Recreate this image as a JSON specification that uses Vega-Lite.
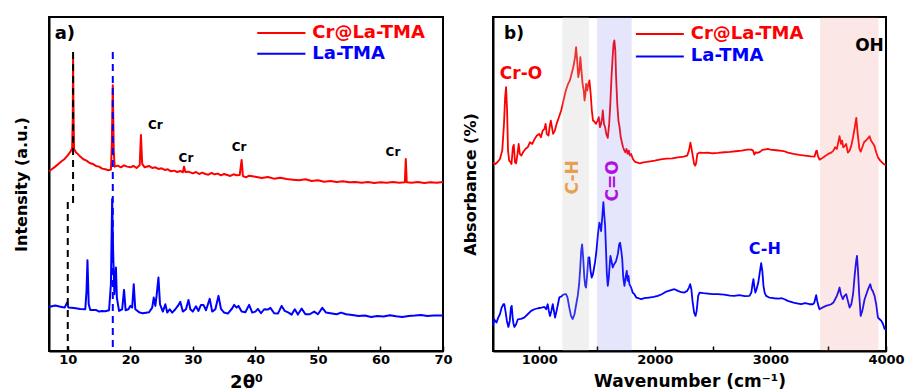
{
  "$schema": "https://vega.github.io/schema/vega-lite/v6.json",
  "background": "white",
  "padding": {"left": 12, "top": 16, "right": 4, "bottom": 0},
  "autosize": {"type": "pad"},
  "spacing": 7,
  "config": {
    "font": "DejaVu Sans",
    "view": {"stroke": "black", "strokeWidth": 2},
    "axis": {"grid": false, "domainColor": "black", "domainWidth": 2, "tickColor": "black", "labelColor": "black", "titleColor": "black", "labelFont": "DejaVu Sans", "titleFont": "DejaVu Sans", "labelFontWeight": "bold", "titleFontWeight": "bold", "labelFontSize": 13, "titleFontSize": 16, "labelFlush": false, "labelOverlap": false},
    "text": {"font": "DejaVu Sans", "fontWeight": "bold"}
  },
  "datasets": {
    "xrd": [
      {"s":"Cr@La-TMA","t":7.0,"i":53.8},{"s":"Cr@La-TMA","t":7.5,"i":54.5},{"s":"Cr@La-TMA","t":8.0,"i":55.2},{"s":"Cr@La-TMA","t":8.5,"i":56.0},{"s":"Cr@La-TMA","t":9.0,"i":56.8},{"s":"Cr@La-TMA","t":9.5,"i":57.5},{"s":"Cr@La-TMA","t":10.0,"i":58.6},{"s":"Cr@La-TMA","t":10.4,"i":59.6},{"s":"Cr@La-TMA","t":10.7,"i":60.6},{"s":"Cr@La-TMA","t":10.8,"i":70},{"s":"Cr@La-TMA","t":10.85,"i":88},{"s":"Cr@La-TMA","t":10.9,"i":75},{"s":"Cr@La-TMA","t":11.0,"i":60.5},{"s":"Cr@La-TMA","t":11.3,"i":59.5},{"s":"Cr@La-TMA","t":11.7,"i":58.8},{"s":"Cr@La-TMA","t":12.0,"i":58.2},{"s":"Cr@La-TMA","t":12.5,"i":57.4},{"s":"Cr@La-TMA","t":13.0,"i":57.0},{"s":"Cr@La-TMA","t":13.5,"i":56.3},{"s":"Cr@La-TMA","t":14.0,"i":56.0},{"s":"Cr@La-TMA","t":14.5,"i":55.4},{"s":"Cr@La-TMA","t":15.0,"i":55.2},{"s":"Cr@La-TMA","t":15.5,"i":54.6},{"s":"Cr@La-TMA","t":16.0,"i":54.4},{"s":"Cr@La-TMA","t":16.5,"i":54.1},{"s":"Cr@La-TMA","t":16.9,"i":54.3},{"s":"Cr@La-TMA","t":17.05,"i":62},{"s":"Cr@La-TMA","t":17.2,"i":79.6},{"s":"Cr@La-TMA","t":17.35,"i":60},{"s":"Cr@La-TMA","t":17.5,"i":55.2},{"s":"Cr@La-TMA","t":18.0,"i":55.5},{"s":"Cr@La-TMA","t":18.5,"i":55.0},{"s":"Cr@La-TMA","t":19.0,"i":55.6},{"s":"Cr@La-TMA","t":19.5,"i":55.2},{"s":"Cr@La-TMA","t":20.0,"i":55.0},{"s":"Cr@La-TMA","t":20.5,"i":55.4},{"s":"Cr@La-TMA","t":21.0,"i":54.8},{"s":"Cr@La-TMA","t":21.5,"i":55.6},{"s":"Cr@La-TMA","t":21.7,"i":64.7},{"s":"Cr@La-TMA","t":21.9,"i":56.0},{"s":"Cr@La-TMA","t":22.3,"i":55.0},{"s":"Cr@La-TMA","t":23.0,"i":55.4},{"s":"Cr@La-TMA","t":23.5,"i":54.8},{"s":"Cr@La-TMA","t":24.0,"i":55.0},{"s":"Cr@La-TMA","t":24.5,"i":54.5},{"s":"Cr@La-TMA","t":25.0,"i":54.7},{"s":"Cr@La-TMA","t":25.5,"i":54.2},{"s":"Cr@La-TMA","t":26.0,"i":54.4},{"s":"Cr@La-TMA","t":26.5,"i":53.8},{"s":"Cr@La-TMA","t":27.0,"i":54.0},{"s":"Cr@La-TMA","t":27.5,"i":53.6},{"s":"Cr@La-TMA","t":28.0,"i":53.9},{"s":"Cr@La-TMA","t":28.4,"i":53.5},{"s":"Cr@La-TMA","t":28.6,"i":55.2},{"s":"Cr@La-TMA","t":28.8,"i":53.6},{"s":"Cr@La-TMA","t":29.3,"i":53.7},{"s":"Cr@La-TMA","t":30.0,"i":53.2},{"s":"Cr@La-TMA","t":30.5,"i":53.6},{"s":"Cr@La-TMA","t":31.0,"i":53.0},{"s":"Cr@La-TMA","t":31.5,"i":53.4},{"s":"Cr@La-TMA","t":32.0,"i":53.0},{"s":"Cr@La-TMA","t":32.5,"i":52.8},{"s":"Cr@La-TMA","t":33.0,"i":53.3},{"s":"Cr@La-TMA","t":33.5,"i":52.9},{"s":"Cr@La-TMA","t":34.0,"i":53.1},{"s":"Cr@La-TMA","t":34.5,"i":52.6},{"s":"Cr@La-TMA","t":35.0,"i":53.0},{"s":"Cr@La-TMA","t":35.5,"i":52.7},{"s":"Cr@La-TMA","t":36.0,"i":52.4},{"s":"Cr@La-TMA","t":36.5,"i":52.9},{"s":"Cr@La-TMA","t":37.0,"i":52.6},{"s":"Cr@La-TMA","t":37.5,"i":52.7},{"s":"Cr@La-TMA","t":37.8,"i":57.2},{"s":"Cr@La-TMA","t":38.0,"i":52.4},{"s":"Cr@La-TMA","t":38.5,"i":52.0},{"s":"Cr@La-TMA","t":39.0,"i":52.5},{"s":"Cr@La-TMA","t":40.0,"i":52.2},{"s":"Cr@La-TMA","t":41.0,"i":51.8},{"s":"Cr@La-TMA","t":42.0,"i":52.1},{"s":"Cr@La-TMA","t":43.0,"i":51.6},{"s":"Cr@La-TMA","t":44.0,"i":51.9},{"s":"Cr@La-TMA","t":45.0,"i":51.5},{"s":"Cr@La-TMA","t":46.0,"i":51.3},{"s":"Cr@La-TMA","t":47.0,"i":51.1},{"s":"Cr@La-TMA","t":48.0,"i":51.4},{"s":"Cr@La-TMA","t":49.0,"i":50.9},{"s":"Cr@La-TMA","t":50.0,"i":51.1},{"s":"Cr@La-TMA","t":51.0,"i":50.7},{"s":"Cr@La-TMA","t":52.0,"i":50.9},{"s":"Cr@La-TMA","t":53.0,"i":50.6},{"s":"Cr@La-TMA","t":54.0,"i":50.8},{"s":"Cr@La-TMA","t":55.0,"i":50.5},{"s":"Cr@La-TMA","t":56.0,"i":50.6},{"s":"Cr@La-TMA","t":57.0,"i":50.4},{"s":"Cr@La-TMA","t":58.0,"i":50.6},{"s":"Cr@La-TMA","t":59.0,"i":50.3},{"s":"Cr@La-TMA","t":60.0,"i":50.5},{"s":"Cr@La-TMA","t":61.0,"i":50.4},{"s":"Cr@La-TMA","t":62.0,"i":50.6},{"s":"Cr@La-TMA","t":63.0,"i":50.4},{"s":"Cr@La-TMA","t":63.9,"i":50.5},{"s":"Cr@La-TMA","t":64.05,"i":57.5},{"s":"Cr@La-TMA","t":64.2,"i":50.5},{"s":"Cr@La-TMA","t":65.0,"i":50.4},{"s":"Cr@La-TMA","t":66.0,"i":50.6},{"s":"Cr@La-TMA","t":67.0,"i":50.3},{"s":"Cr@La-TMA","t":68.0,"i":50.5},{"s":"Cr@La-TMA","t":69.0,"i":50.4},{"s":"Cr@La-TMA","t":70.0,"i":50.6},
      {"s":"La-TMA","t":7.0,"i":13.2},{"s":"La-TMA","t":8.0,"i":13.6},{"s":"La-TMA","t":9.0,"i":13.2},{"s":"La-TMA","t":9.5,"i":13.0},{"s":"La-TMA","t":9.9,"i":14.5},{"s":"La-TMA","t":10.1,"i":13.0},{"s":"La-TMA","t":11.0,"i":12.9},{"s":"La-TMA","t":12.0,"i":12.6},{"s":"La-TMA","t":12.8,"i":12.5},{"s":"La-TMA","t":13.0,"i":18},{"s":"La-TMA","t":13.15,"i":27.2},{"s":"La-TMA","t":13.35,"i":14},{"s":"La-TMA","t":13.6,"i":12.3},{"s":"La-TMA","t":14.5,"i":12.3},{"s":"La-TMA","t":15.0,"i":11.8},{"s":"La-TMA","t":15.5,"i":12.0},{"s":"La-TMA","t":16.0,"i":11.9},{"s":"La-TMA","t":16.6,"i":12.2},{"s":"La-TMA","t":16.9,"i":20},{"s":"La-TMA","t":17.1,"i":45.5},{"s":"La-TMA","t":17.25,"i":30},{"s":"La-TMA","t":17.45,"i":17},{"s":"La-TMA","t":17.7,"i":25},{"s":"La-TMA","t":17.85,"i":16},{"s":"La-TMA","t":18.2,"i":12.0},{"s":"La-TMA","t":18.7,"i":12.5},{"s":"La-TMA","t":19.0,"i":18.3},{"s":"La-TMA","t":19.25,"i":12.2},{"s":"La-TMA","t":19.7,"i":12.5},{"s":"La-TMA","t":20.0,"i":13.5},{"s":"La-TMA","t":20.3,"i":13},{"s":"La-TMA","t":20.55,"i":20},{"s":"La-TMA","t":20.8,"i":12.5},{"s":"La-TMA","t":21.5,"i":11.5},{"s":"La-TMA","t":22.0,"i":11.3},{"s":"La-TMA","t":23.0,"i":11.6},{"s":"La-TMA","t":23.5,"i":13},{"s":"La-TMA","t":23.75,"i":16},{"s":"La-TMA","t":24.0,"i":13.5},{"s":"La-TMA","t":24.2,"i":16.5},{"s":"La-TMA","t":24.5,"i":22},{"s":"La-TMA","t":24.75,"i":14},{"s":"La-TMA","t":25.2,"i":11.8},{"s":"La-TMA","t":25.6,"i":14},{"s":"La-TMA","t":25.9,"i":11.5},{"s":"La-TMA","t":26.3,"i":12.5},{"s":"La-TMA","t":26.7,"i":11.5},{"s":"La-TMA","t":27.2,"i":12.5},{"s":"La-TMA","t":27.6,"i":13.5},{"s":"La-TMA","t":28.0,"i":14.7},{"s":"La-TMA","t":28.4,"i":11.8},{"s":"La-TMA","t":28.9,"i":12.5},{"s":"La-TMA","t":29.3,"i":15.3},{"s":"La-TMA","t":29.6,"i":12.5},{"s":"La-TMA","t":30.0,"i":11.8},{"s":"La-TMA","t":30.5,"i":13.4},{"s":"La-TMA","t":30.9,"i":12},{"s":"La-TMA","t":31.3,"i":13.8},{"s":"La-TMA","t":31.7,"i":13.8},{"s":"La-TMA","t":32.1,"i":12.2},{"s":"La-TMA","t":32.7,"i":15.6},{"s":"La-TMA","t":33.1,"i":11.8},{"s":"La-TMA","t":33.6,"i":12.5},{"s":"La-TMA","t":34.1,"i":16.5},{"s":"La-TMA","t":34.5,"i":12.6},{"s":"La-TMA","t":35.0,"i":11.5},{"s":"La-TMA","t":35.6,"i":11.2},{"s":"La-TMA","t":36.3,"i":12.8},{"s":"La-TMA","t":36.6,"i":13.8},{"s":"La-TMA","t":37.0,"i":13},{"s":"La-TMA","t":37.3,"i":13.5},{"s":"La-TMA","t":37.8,"i":11.8},{"s":"La-TMA","t":38.4,"i":11.6},{"s":"La-TMA","t":39.0,"i":13.8},{"s":"La-TMA","t":39.5,"i":11.5},{"s":"La-TMA","t":40.0,"i":11.8},{"s":"La-TMA","t":40.4,"i":12.6},{"s":"La-TMA","t":40.9,"i":11.3},{"s":"La-TMA","t":41.4,"i":12.5},{"s":"La-TMA","t":42.0,"i":12.4},{"s":"La-TMA","t":42.4,"i":12.9},{"s":"La-TMA","t":43.0,"i":11.3},{"s":"La-TMA","t":43.6,"i":11.2},{"s":"La-TMA","t":44.2,"i":13.5},{"s":"La-TMA","t":44.7,"i":12.0},{"s":"La-TMA","t":45.3,"i":11.5},{"s":"La-TMA","t":45.8,"i":10.9},{"s":"La-TMA","t":46.3,"i":12.5},{"s":"La-TMA","t":46.8,"i":10.9},{"s":"La-TMA","t":47.4,"i":12.7},{"s":"La-TMA","t":48.0,"i":11},{"s":"La-TMA","t":48.7,"i":11},{"s":"La-TMA","t":49.4,"i":11.8},{"s":"La-TMA","t":50.0,"i":11.0},{"s":"La-TMA","t":50.7,"i":12.9},{"s":"La-TMA","t":51.3,"i":11.5},{"s":"La-TMA","t":52.0,"i":11.3},{"s":"La-TMA","t":53.0,"i":11.0},{"s":"La-TMA","t":53.7,"i":11.5},{"s":"La-TMA","t":54.5,"i":11.0},{"s":"La-TMA","t":55.5,"i":10.8},{"s":"La-TMA","t":56.5,"i":10.5},{"s":"La-TMA","t":57.5,"i":10.6},{"s":"La-TMA","t":58.5,"i":10.2},{"s":"La-TMA","t":59.5,"i":10.5},{"s":"La-TMA","t":60.5,"i":10.3},{"s":"La-TMA","t":61.5,"i":10.7},{"s":"La-TMA","t":62.5,"i":10.4},{"s":"La-TMA","t":63.5,"i":10.2},{"s":"La-TMA","t":64.5,"i":10.5},{"s":"La-TMA","t":65.5,"i":10.6},{"s":"La-TMA","t":66.5,"i":10.8},{"s":"La-TMA","t":67.5,"i":10.5},{"s":"La-TMA","t":68.5,"i":10.6},{"s":"La-TMA","t":70.0,"i":10.6}
    ],
    "ftir": [
      {"s":"Cr@La-TMA","w":600,"a":56.4},{"s":"Cr@La-TMA","w":620,"a":56.0},{"s":"Cr@La-TMA","w":640,"a":56.6},{"s":"Cr@La-TMA","w":660,"a":57.5},{"s":"Cr@La-TMA","w":680,"a":60},{"s":"Cr@La-TMA","w":695,"a":68},{"s":"Cr@La-TMA","w":705,"a":76},{"s":"Cr@La-TMA","w":713,"a":79},{"s":"Cr@La-TMA","w":722,"a":72},{"s":"Cr@La-TMA","w":730,"a":60},{"s":"Cr@La-TMA","w":740,"a":57},{"s":"Cr@La-TMA","w":750,"a":56.6},{"s":"Cr@La-TMA","w":760,"a":56},{"s":"Cr@La-TMA","w":772,"a":61},{"s":"Cr@La-TMA","w":780,"a":61.7},{"s":"Cr@La-TMA","w":790,"a":56.5},{"s":"Cr@La-TMA","w":800,"a":56.2},{"s":"Cr@La-TMA","w":812,"a":59},{"s":"Cr@La-TMA","w":822,"a":62},{"s":"Cr@La-TMA","w":832,"a":59},{"s":"Cr@La-TMA","w":845,"a":58.5},{"s":"Cr@La-TMA","w":860,"a":59.5},{"s":"Cr@La-TMA","w":880,"a":60.5},{"s":"Cr@La-TMA","w":900,"a":61},{"s":"Cr@La-TMA","w":920,"a":62.5},{"s":"Cr@La-TMA","w":940,"a":62},{"s":"Cr@La-TMA","w":960,"a":63.5},{"s":"Cr@La-TMA","w":980,"a":64.5},{"s":"Cr@La-TMA","w":1000,"a":65},{"s":"Cr@La-TMA","w":1015,"a":64},{"s":"Cr@La-TMA","w":1030,"a":66},{"s":"Cr@La-TMA","w":1045,"a":66.5},{"s":"Cr@La-TMA","w":1055,"a":68},{"s":"Cr@La-TMA","w":1065,"a":65},{"s":"Cr@La-TMA","w":1080,"a":64.5},{"s":"Cr@La-TMA","w":1090,"a":67},{"s":"Cr@La-TMA","w":1100,"a":69},{"s":"Cr@La-TMA","w":1110,"a":67},{"s":"Cr@La-TMA","w":1120,"a":65},{"s":"Cr@La-TMA","w":1135,"a":66},{"s":"Cr@La-TMA","w":1150,"a":68},{"s":"Cr@La-TMA","w":1170,"a":70},{"s":"Cr@La-TMA","w":1190,"a":72},{"s":"Cr@La-TMA","w":1210,"a":75},{"s":"Cr@La-TMA","w":1230,"a":78},{"s":"Cr@La-TMA","w":1250,"a":80},{"s":"Cr@La-TMA","w":1265,"a":81},{"s":"Cr@La-TMA","w":1280,"a":83},{"s":"Cr@La-TMA","w":1295,"a":85},{"s":"Cr@La-TMA","w":1310,"a":88},{"s":"Cr@La-TMA","w":1319,"a":91},{"s":"Cr@La-TMA","w":1328,"a":87},{"s":"Cr@La-TMA","w":1338,"a":82},{"s":"Cr@La-TMA","w":1348,"a":84},{"s":"Cr@La-TMA","w":1356,"a":88},{"s":"Cr@La-TMA","w":1365,"a":84},{"s":"Cr@La-TMA","w":1375,"a":80},{"s":"Cr@La-TMA","w":1385,"a":78},{"s":"Cr@La-TMA","w":1392,"a":75},{"s":"Cr@La-TMA","w":1400,"a":77},{"s":"Cr@La-TMA","w":1406,"a":80},{"s":"Cr@La-TMA","w":1415,"a":78},{"s":"Cr@La-TMA","w":1425,"a":80},{"s":"Cr@La-TMA","w":1434,"a":81},{"s":"Cr@La-TMA","w":1445,"a":77},{"s":"Cr@La-TMA","w":1455,"a":72},{"s":"Cr@La-TMA","w":1465,"a":69},{"s":"Cr@La-TMA","w":1477,"a":68.7},{"s":"Cr@La-TMA","w":1490,"a":68},{"s":"Cr@La-TMA","w":1505,"a":69},{"s":"Cr@La-TMA","w":1515,"a":70},{"s":"Cr@La-TMA","w":1525,"a":67},{"s":"Cr@La-TMA","w":1535,"a":68},{"s":"Cr@La-TMA","w":1545,"a":70},{"s":"Cr@La-TMA","w":1550,"a":72},{"s":"Cr@La-TMA","w":1560,"a":68},{"s":"Cr@La-TMA","w":1570,"a":67},{"s":"Cr@La-TMA","w":1580,"a":65},{"s":"Cr@La-TMA","w":1593,"a":63.8},{"s":"Cr@La-TMA","w":1605,"a":68},{"s":"Cr@La-TMA","w":1615,"a":74},{"s":"Cr@La-TMA","w":1625,"a":82},{"s":"Cr@La-TMA","w":1635,"a":88},{"s":"Cr@La-TMA","w":1643,"a":92},{"s":"Cr@La-TMA","w":1650,"a":93},{"s":"Cr@La-TMA","w":1658,"a":90},{"s":"Cr@La-TMA","w":1665,"a":82},{"s":"Cr@La-TMA","w":1675,"a":74},{"s":"Cr@La-TMA","w":1685,"a":69},{"s":"Cr@La-TMA","w":1695,"a":67},{"s":"Cr@La-TMA","w":1705,"a":64},{"s":"Cr@La-TMA","w":1715,"a":62.5},{"s":"Cr@La-TMA","w":1725,"a":61},{"s":"Cr@La-TMA","w":1737,"a":60},{"s":"Cr@La-TMA","w":1745,"a":59.5},{"s":"Cr@La-TMA","w":1755,"a":60.5},{"s":"Cr@La-TMA","w":1765,"a":59},{"s":"Cr@La-TMA","w":1775,"a":60},{"s":"Cr@La-TMA","w":1785,"a":58.5},{"s":"Cr@La-TMA","w":1795,"a":59},{"s":"Cr@La-TMA","w":1810,"a":57.5},{"s":"Cr@La-TMA","w":1830,"a":56.6},{"s":"Cr@La-TMA","w":1850,"a":56.4},{"s":"Cr@La-TMA","w":1870,"a":56.2},{"s":"Cr@La-TMA","w":1900,"a":56.5},{"s":"Cr@La-TMA","w":1930,"a":56.6},{"s":"Cr@La-TMA","w":1960,"a":56.8},{"s":"Cr@La-TMA","w":2000,"a":57},{"s":"Cr@La-TMA","w":2050,"a":57.4},{"s":"Cr@La-TMA","w":2100,"a":57.6},{"s":"Cr@La-TMA","w":2150,"a":57.7},{"s":"Cr@La-TMA","w":2200,"a":58},{"s":"Cr@La-TMA","w":2250,"a":58.2},{"s":"Cr@La-TMA","w":2280,"a":58.5},{"s":"Cr@La-TMA","w":2295,"a":60},{"s":"Cr@La-TMA","w":2308,"a":62.4},{"s":"Cr@La-TMA","w":2318,"a":60.5},{"s":"Cr@La-TMA","w":2328,"a":58.5},{"s":"Cr@La-TMA","w":2340,"a":56},{"s":"Cr@La-TMA","w":2350,"a":55.5},{"s":"Cr@La-TMA","w":2358,"a":56.4},{"s":"Cr@La-TMA","w":2368,"a":59},{"s":"Cr@La-TMA","w":2387,"a":59.4},{"s":"Cr@La-TMA","w":2420,"a":59.3},{"s":"Cr@La-TMA","w":2460,"a":59.4},{"s":"Cr@La-TMA","w":2500,"a":59.2},{"s":"Cr@La-TMA","w":2545,"a":59.3},{"s":"Cr@La-TMA","w":2600,"a":59.5},{"s":"Cr@La-TMA","w":2650,"a":59.6},{"s":"Cr@La-TMA","w":2700,"a":59.8},{"s":"Cr@La-TMA","w":2750,"a":60},{"s":"Cr@La-TMA","w":2800,"a":60.3},{"s":"Cr@La-TMA","w":2834,"a":60.3},{"s":"Cr@La-TMA","w":2850,"a":60},{"s":"Cr@La-TMA","w":2862,"a":58.8},{"s":"Cr@La-TMA","w":2875,"a":59.5},{"s":"Cr@La-TMA","w":2890,"a":59.3},{"s":"Cr@La-TMA","w":2910,"a":59.6},{"s":"Cr@La-TMA","w":2930,"a":60.2},{"s":"Cr@La-TMA","w":2960,"a":60.4},{"s":"Cr@La-TMA","w":2978,"a":60.5},{"s":"Cr@La-TMA","w":3000,"a":60.3},{"s":"Cr@La-TMA","w":3050,"a":60.1},{"s":"Cr@La-TMA","w":3100,"a":59.9},{"s":"Cr@La-TMA","w":3122,"a":59.8},{"s":"Cr@La-TMA","w":3150,"a":59.4},{"s":"Cr@La-TMA","w":3200,"a":59},{"s":"Cr@La-TMA","w":3250,"a":58.7},{"s":"Cr@La-TMA","w":3300,"a":58.5},{"s":"Cr@La-TMA","w":3350,"a":58.3},{"s":"Cr@La-TMA","w":3382,"a":58.2},{"s":"Cr@La-TMA","w":3395,"a":59.8},{"s":"Cr@La-TMA","w":3402,"a":60},{"s":"Cr@La-TMA","w":3410,"a":58.5},{"s":"Cr@La-TMA","w":3425,"a":57.3},{"s":"Cr@La-TMA","w":3450,"a":57.8},{"s":"Cr@La-TMA","w":3480,"a":58.5},{"s":"Cr@La-TMA","w":3500,"a":59},{"s":"Cr@La-TMA","w":3526,"a":59.4},{"s":"Cr@La-TMA","w":3545,"a":60},{"s":"Cr@La-TMA","w":3560,"a":61},{"s":"Cr@La-TMA","w":3575,"a":60.5},{"s":"Cr@La-TMA","w":3590,"a":63},{"s":"Cr@La-TMA","w":3598,"a":64.3},{"s":"Cr@La-TMA","w":3610,"a":62},{"s":"Cr@La-TMA","w":3620,"a":63},{"s":"Cr@La-TMA","w":3630,"a":61},{"s":"Cr@La-TMA","w":3641,"a":61.3},{"s":"Cr@La-TMA","w":3655,"a":62},{"s":"Cr@La-TMA","w":3670,"a":59.4},{"s":"Cr@La-TMA","w":3685,"a":60},{"s":"Cr@La-TMA","w":3700,"a":61.5},{"s":"Cr@La-TMA","w":3715,"a":64},{"s":"Cr@La-TMA","w":3730,"a":67},{"s":"Cr@La-TMA","w":3743,"a":69.8},{"s":"Cr@La-TMA","w":3755,"a":65},{"s":"Cr@La-TMA","w":3770,"a":60.5},{"s":"Cr@La-TMA","w":3781,"a":59.7},{"s":"Cr@La-TMA","w":3795,"a":61},{"s":"Cr@La-TMA","w":3810,"a":62.5},{"s":"Cr@La-TMA","w":3825,"a":63},{"s":"Cr@La-TMA","w":3840,"a":63.5},{"s":"Cr@La-TMA","w":3858,"a":64.3},{"s":"Cr@La-TMA","w":3870,"a":63},{"s":"Cr@La-TMA","w":3880,"a":62.5},{"s":"Cr@La-TMA","w":3890,"a":62},{"s":"Cr@La-TMA","w":3901,"a":61.3},{"s":"Cr@La-TMA","w":3915,"a":59.5},{"s":"Cr@La-TMA","w":3930,"a":58},{"s":"Cr@La-TMA","w":3950,"a":57},{"s":"Cr@La-TMA","w":3970,"a":56.3},{"s":"Cr@La-TMA","w":3988,"a":55.8},{"s":"Cr@La-TMA","w":4000,"a":55.8},
      {"s":"La-TMA","w":600,"a":7.6},{"s":"La-TMA","w":610,"a":9.5},{"s":"La-TMA","w":620,"a":9},{"s":"La-TMA","w":630,"a":8.5},{"s":"La-TMA","w":645,"a":10},{"s":"La-TMA","w":660,"a":11},{"s":"La-TMA","w":675,"a":13},{"s":"La-TMA","w":690,"a":14},{"s":"La-TMA","w":698,"a":14},{"s":"La-TMA","w":710,"a":11.5},{"s":"La-TMA","w":720,"a":9},{"s":"La-TMA","w":733,"a":7.2},{"s":"La-TMA","w":745,"a":9},{"s":"La-TMA","w":755,"a":13},{"s":"La-TMA","w":762,"a":13.5},{"s":"La-TMA","w":770,"a":10},{"s":"La-TMA","w":778,"a":8},{"s":"La-TMA","w":785,"a":7.2},{"s":"La-TMA","w":800,"a":8},{"s":"La-TMA","w":815,"a":9.5},{"s":"La-TMA","w":842,"a":9.6},{"s":"La-TMA","w":870,"a":10},{"s":"La-TMA","w":900,"a":11},{"s":"La-TMA","w":930,"a":12},{"s":"La-TMA","w":958,"a":12.5},{"s":"La-TMA","w":990,"a":12.8},{"s":"La-TMA","w":1020,"a":13},{"s":"La-TMA","w":1045,"a":13.2},{"s":"La-TMA","w":1060,"a":12.5},{"s":"La-TMA","w":1073,"a":14},{"s":"La-TMA","w":1083,"a":12},{"s":"La-TMA","w":1093,"a":10.5},{"s":"La-TMA","w":1105,"a":12},{"s":"La-TMA","w":1117,"a":14},{"s":"La-TMA","w":1127,"a":12},{"s":"La-TMA","w":1137,"a":10},{"s":"La-TMA","w":1150,"a":12},{"s":"La-TMA","w":1162,"a":14},{"s":"La-TMA","w":1174,"a":16.1},{"s":"La-TMA","w":1190,"a":16.3},{"s":"La-TMA","w":1205,"a":16.8},{"s":"La-TMA","w":1220,"a":17},{"s":"La-TMA","w":1232,"a":17},{"s":"La-TMA","w":1245,"a":16},{"s":"La-TMA","w":1260,"a":13},{"s":"La-TMA","w":1275,"a":10.5},{"s":"La-TMA","w":1290,"a":9.6},{"s":"La-TMA","w":1305,"a":11},{"s":"La-TMA","w":1320,"a":14},{"s":"La-TMA","w":1333,"a":16.5},{"s":"La-TMA","w":1345,"a":20},{"s":"La-TMA","w":1355,"a":25},{"s":"La-TMA","w":1363,"a":30},{"s":"La-TMA","w":1371,"a":31.9},{"s":"La-TMA","w":1380,"a":28},{"s":"La-TMA","w":1390,"a":22},{"s":"La-TMA","w":1398,"a":19.5},{"s":"La-TMA","w":1405,"a":19},{"s":"La-TMA","w":1415,"a":23},{"s":"La-TMA","w":1425,"a":28},{"s":"La-TMA","w":1434,"a":28},{"s":"La-TMA","w":1444,"a":24},{"s":"La-TMA","w":1454,"a":22},{"s":"La-TMA","w":1465,"a":23},{"s":"La-TMA","w":1475,"a":25},{"s":"La-TMA","w":1483,"a":26.6},{"s":"La-TMA","w":1495,"a":30},{"s":"La-TMA","w":1508,"a":35},{"s":"La-TMA","w":1520,"a":38.4},{"s":"La-TMA","w":1528,"a":37.5},{"s":"La-TMA","w":1535,"a":35.9},{"s":"La-TMA","w":1545,"a":40},{"s":"La-TMA","w":1555,"a":44.6},{"s":"La-TMA","w":1562,"a":41},{"s":"La-TMA","w":1570,"a":37.4},{"s":"La-TMA","w":1578,"a":30},{"s":"La-TMA","w":1585,"a":23},{"s":"La-TMA","w":1593,"a":19.5},{"s":"La-TMA","w":1602,"a":22},{"s":"La-TMA","w":1610,"a":26},{"s":"La-TMA","w":1616,"a":28.5},{"s":"La-TMA","w":1625,"a":27},{"s":"La-TMA","w":1636,"a":25},{"s":"La-TMA","w":1648,"a":26},{"s":"La-TMA","w":1658,"a":26.5},{"s":"La-TMA","w":1665,"a":27},{"s":"La-TMA","w":1680,"a":29},{"s":"La-TMA","w":1692,"a":32},{"s":"La-TMA","w":1700,"a":32.4},{"s":"La-TMA","w":1710,"a":30},{"s":"La-TMA","w":1718,"a":27.5},{"s":"La-TMA","w":1727,"a":22},{"s":"La-TMA","w":1737,"a":19.5},{"s":"La-TMA","w":1747,"a":22},{"s":"La-TMA","w":1757,"a":24},{"s":"La-TMA","w":1765,"a":21},{"s":"La-TMA","w":1772,"a":22.5},{"s":"La-TMA","w":1780,"a":20},{"s":"La-TMA","w":1795,"a":19},{"s":"La-TMA","w":1808,"a":17.5},{"s":"La-TMA","w":1823,"a":17},{"s":"La-TMA","w":1840,"a":16},{"s":"La-TMA","w":1860,"a":15.8},{"s":"La-TMA","w":1881,"a":15.5},{"s":"La-TMA","w":1910,"a":15.8},{"s":"La-TMA","w":1950,"a":16},{"s":"La-TMA","w":1990,"a":16.2},{"s":"La-TMA","w":2026,"a":16.5},{"s":"La-TMA","w":2060,"a":17},{"s":"La-TMA","w":2100,"a":17.8},{"s":"La-TMA","w":2140,"a":18.2},{"s":"La-TMA","w":2170,"a":18.5},{"s":"La-TMA","w":2200,"a":18},{"s":"La-TMA","w":2230,"a":17.6},{"s":"La-TMA","w":2256,"a":17.5},{"s":"La-TMA","w":2280,"a":18},{"s":"La-TMA","w":2295,"a":19},{"s":"La-TMA","w":2306,"a":20},{"s":"La-TMA","w":2316,"a":18.5},{"s":"La-TMA","w":2326,"a":15},{"s":"La-TMA","w":2340,"a":11.5},{"s":"La-TMA","w":2352,"a":10.5},{"s":"La-TMA","w":2362,"a":12},{"s":"La-TMA","w":2375,"a":16.5},{"s":"La-TMA","w":2387,"a":17.5},{"s":"La-TMA","w":2420,"a":17.3},{"s":"La-TMA","w":2460,"a":17.2},{"s":"La-TMA","w":2500,"a":17},{"s":"La-TMA","w":2545,"a":17},{"s":"La-TMA","w":2600,"a":16.9},{"s":"La-TMA","w":2650,"a":16.6},{"s":"La-TMA","w":2689,"a":16.5},{"s":"La-TMA","w":2730,"a":16.7},{"s":"La-TMA","w":2780,"a":16.4},{"s":"La-TMA","w":2819,"a":16.5},{"s":"La-TMA","w":2835,"a":17.5},{"s":"La-TMA","w":2845,"a":20},{"s":"La-TMA","w":2853,"a":21.5},{"s":"La-TMA","w":2862,"a":19},{"s":"La-TMA","w":2870,"a":17.5},{"s":"La-TMA","w":2880,"a":18.5},{"s":"La-TMA","w":2895,"a":20.5},{"s":"La-TMA","w":2910,"a":24},{"s":"La-TMA","w":2920,"a":26.3},{"s":"La-TMA","w":2930,"a":24},{"s":"La-TMA","w":2940,"a":19.5},{"s":"La-TMA","w":2950,"a":17.5},{"s":"La-TMA","w":2963,"a":16.5},{"s":"La-TMA","w":2990,"a":16},{"s":"La-TMA","w":3030,"a":15.8},{"s":"La-TMA","w":3070,"a":15.7},{"s":"La-TMA","w":3100,"a":15.8},{"s":"La-TMA","w":3122,"a":15.5},{"s":"La-TMA","w":3150,"a":15},{"s":"La-TMA","w":3200,"a":14.5},{"s":"La-TMA","w":3240,"a":14.2},{"s":"La-TMA","w":3267,"a":14},{"s":"La-TMA","w":3300,"a":14.3},{"s":"La-TMA","w":3340,"a":14},{"s":"La-TMA","w":3368,"a":14},{"s":"La-TMA","w":3380,"a":14.5},{"s":"La-TMA","w":3396,"a":16.7},{"s":"La-TMA","w":3405,"a":15},{"s":"La-TMA","w":3415,"a":13.5},{"s":"La-TMA","w":3425,"a":12.5},{"s":"La-TMA","w":3450,"a":13},{"s":"La-TMA","w":3480,"a":13.5},{"s":"La-TMA","w":3510,"a":13.8},{"s":"La-TMA","w":3526,"a":14},{"s":"La-TMA","w":3545,"a":14.5},{"s":"La-TMA","w":3560,"a":15.5},{"s":"La-TMA","w":3575,"a":16.5},{"s":"La-TMA","w":3590,"a":18},{"s":"La-TMA","w":3598,"a":19},{"s":"La-TMA","w":3610,"a":17},{"s":"La-TMA","w":3627,"a":15.5},{"s":"La-TMA","w":3640,"a":16.5},{"s":"La-TMA","w":3656,"a":17},{"s":"La-TMA","w":3670,"a":15},{"s":"La-TMA","w":3685,"a":13},{"s":"La-TMA","w":3700,"a":14},{"s":"La-TMA","w":3715,"a":17},{"s":"La-TMA","w":3730,"a":23},{"s":"La-TMA","w":3742,"a":27},{"s":"La-TMA","w":3749,"a":28.5},{"s":"La-TMA","w":3758,"a":24},{"s":"La-TMA","w":3768,"a":17},{"s":"La-TMA","w":3781,"a":10.5},{"s":"La-TMA","w":3795,"a":12},{"s":"La-TMA","w":3815,"a":15.5},{"s":"La-TMA","w":3830,"a":17},{"s":"La-TMA","w":3845,"a":18.5},{"s":"La-TMA","w":3864,"a":20},{"s":"La-TMA","w":3875,"a":18.5},{"s":"La-TMA","w":3885,"a":18},{"s":"La-TMA","w":3901,"a":16.5},{"s":"La-TMA","w":3915,"a":14},{"s":"La-TMA","w":3930,"a":10},{"s":"La-TMA","w":3945,"a":9.5},{"s":"La-TMA","w":3960,"a":9},{"s":"La-TMA","w":3975,"a":8},{"s":"La-TMA","w":3988,"a":6.6},{"s":"La-TMA","w":4000,"a":6.5}
    ]
  },
  "hconcat": [
    {
      "width": 394,
      "height": 334,
      "layer": [
        {
          "data": {"name": "xrd"},
          "mark": {"type": "line", "strokeWidth": 2, "strokeJoin": "round"},
          "encoding": {
            "x": {"field": "t", "type": "quantitative", "scale": {"domain": [7, 70], "nice": false, "zero": false},
                  "axis": {"values": [10,15,20,25,30,35,40,45,50,55,60,65,70], "labelExpr": "datum.value % 10 === 0 ? datum.label : ''", "tickSize": -5, "tickWidth": 1.5, "labelPadding": 7, "title": "2θ⁰", "titleFontSize": 18, "titlePadding": 7}},
            "y": {"field": "i", "type": "quantitative", "scale": {"domain": [0, 100], "nice": false},
                  "axis": {"labels": false, "ticks": false, "title": "Intensity (a.u.)", "titlePadding": 20}},
            "color": {"field": "s", "type": "nominal", "scale": {"domain": ["Cr@La-TMA", "La-TMA"], "range": ["#ff0000", "#0000ff"]}, "legend": null}
          }
        },
        {
          "data": {"values": [{"t": 10.85, "y1": 89.5, "y2": 43}, {"t": 10.0, "y1": 44.6, "y2": 0}]},
          "mark": {"type": "rule", "color": "black", "strokeWidth": 2, "strokeDash": [7, 5]},
          "encoding": {"x": {"field": "t", "type": "quantitative"}, "y": {"field": "y1", "type": "quantitative"}, "y2": {"field": "y2"}}
        },
        {
          "data": {"values": [{"t": 17.2, "y1": 89.5, "y2": 0}]},
          "mark": {"type": "rule", "color": "#0000ff", "strokeWidth": 2, "strokeDash": [7, 5]},
          "encoding": {"x": {"field": "t", "type": "quantitative"}, "y": {"field": "y1", "type": "quantitative"}, "y2": {"field": "y2"}}
        },
        {
          "data": {"values": [{"t": 24.0, "i": 67.7, "label": "Cr"}, {"t": 28.9, "i": 57.8, "label": "Cr"}, {"t": 37.4, "i": 61.2, "label": "Cr"}, {"t": 62.0, "i": 59.6, "label": "Cr"}]},
          "mark": {"type": "text", "fontSize": 12, "color": "black", "baseline": "middle", "align": "center"},
          "encoding": {"x": {"field": "t", "type": "quantitative"}, "y": {"field": "i", "type": "quantitative"}, "text": {"field": "label"}}
        },
        {
          "data": {"values": [{"t": 7.9, "i": 94.9, "label": "a)"}]},
          "mark": {"type": "text", "fontSize": 18, "color": "black", "baseline": "middle", "align": "left"},
          "encoding": {"x": {"field": "t", "type": "quantitative"}, "y": {"field": "i", "type": "quantitative"}, "text": {"field": "label"}}
        },
        {
          "data": {"values": [{"s": "Cr@La-TMA", "x1": 40.3, "x2": 48.0, "y": 95.2}, {"s": "La-TMA", "x1": 40.3, "x2": 48.0, "y": 89.0}]},
          "mark": {"type": "rule", "strokeWidth": 2},
          "encoding": {"x": {"field": "x1", "type": "quantitative"}, "x2": {"field": "x2"}, "y": {"field": "y", "type": "quantitative"}, "color": {"field": "s", "type": "nominal", "legend": null}}
        },
        {
          "data": {"values": [{"s": "Cr@La-TMA", "x": 49.1, "y": 95.2}, {"s": "La-TMA", "x": 49.1, "y": 89.0}]},
          "mark": {"type": "text", "fontSize": 18, "align": "left", "baseline": "middle"},
          "encoding": {"x": {"field": "x", "type": "quantitative"}, "y": {"field": "y", "type": "quantitative"}, "text": {"field": "s"}, "color": {"field": "s", "type": "nominal", "legend": null}}
        }
      ]
    },
    {
      "width": 393,
      "height": 334,
      "layer": [
        {
          "data": {"name": "ftir"},
          "mark": {"type": "line", "strokeWidth": 1.8, "strokeJoin": "round"},
          "encoding": {
            "x": {"field": "w", "type": "quantitative", "scale": {"domain": [600, 4000], "nice": false, "zero": false},
                  "axis": {"values": [1000,1500,2000,2500,3000,3500,4000], "labelExpr": "datum.value % 1000 === 0 ? datum.label : ''", "format": "d", "tickSize": -5, "tickWidth": 1.5, "labelPadding": 7, "title": "Wavenumber (cm⁻¹)", "titleFontSize": 17, "titlePadding": 7}},
            "y": {"field": "a", "type": "quantitative", "scale": {"domain": [0, 100], "nice": false},
                  "axis": {"labels": false, "ticks": false, "title": "Absorbance (%)", "titlePadding": 15}},
            "color": {"field": "s", "type": "nominal", "scale": {"domain": ["Cr@La-TMA", "La-TMA"], "range": ["#ff0000", "#0000ff"]}, "legend": null}
          }
        },
        {
          "data": {"values": [{"lo": 1200, "hi": 1430}]},
          "mark": {"type": "rect", "color": "#c4c4c4", "opacity": 0.25},
          "encoding": {"x": {"field": "lo", "type": "quantitative"}, "x2": {"field": "hi"}}
        },
        {
          "data": {"values": [{"lo": 1500, "hi": 1800}]},
          "mark": {"type": "rect", "color": "#7070f0", "opacity": 0.18},
          "encoding": {"x": {"field": "lo", "type": "quantitative"}, "x2": {"field": "hi"}}
        },
        {
          "data": {"values": [{"lo": 3430, "hi": 3936}]},
          "mark": {"type": "rect", "color": "#ee7070", "opacity": 0.17},
          "encoding": {"x": {"field": "lo", "type": "quantitative"}, "x2": {"field": "hi"}}
        },
        {
          "data": {"values": [{"w": 695, "a": 94.8, "label": "b)"}, {"w": 3733, "a": 91.3, "label": "OH"}]},
          "mark": {"type": "text", "fontSize": 17, "color": "black", "baseline": "middle", "align": "left"},
          "encoding": {"x": {"field": "w", "type": "quantitative"}, "y": {"field": "a", "type": "quantitative"}, "text": {"field": "label"}}
        },
        {
          "data": {"values": [{"w": 842, "a": 82.9, "label": "Cr-O"}]},
          "mark": {"type": "text", "fontSize": 17, "color": "#ff0000", "baseline": "middle", "align": "center"},
          "encoding": {"x": {"field": "w", "type": "quantitative"}, "y": {"field": "a", "type": "quantitative"}, "text": {"field": "label"}}
        },
        {
          "data": {"values": [{"w": 2951, "a": 30.4, "label": "C-H"}]},
          "mark": {"type": "text", "fontSize": 16, "color": "#0000ff", "baseline": "middle", "align": "center"},
          "encoding": {"x": {"field": "w", "type": "quantitative"}, "y": {"field": "a", "type": "quantitative"}, "text": {"field": "label"}}
        },
        {
          "data": {"values": [{"w": 1291, "a": 52, "label": "C-H"}]},
          "mark": {"type": "text", "fontSize": 17, "color": "#e8a050", "baseline": "middle", "align": "center", "angle": 270},
          "encoding": {"x": {"field": "w", "type": "quantitative"}, "y": {"field": "a", "type": "quantitative"}, "text": {"field": "label"}}
        },
        {
          "data": {"values": [{"w": 1637, "a": 50.9, "label": "C=O"}]},
          "mark": {"type": "text", "fontSize": 17, "color": "#b010e0", "baseline": "middle", "align": "center", "angle": 270},
          "encoding": {"x": {"field": "w", "type": "quantitative"}, "y": {"field": "a", "type": "quantitative"}, "text": {"field": "label"}}
        },
        {
          "data": {"values": [{"s": "Cr@La-TMA", "x1": 1836, "x2": 2251, "y": 94.9}, {"s": "La-TMA", "x1": 1836, "x2": 2251, "y": 88.2}]},
          "mark": {"type": "rule", "strokeWidth": 2},
          "encoding": {"x": {"field": "x1", "type": "quantitative"}, "x2": {"field": "x2"}, "y": {"field": "y", "type": "quantitative"}, "color": {"field": "s", "type": "nominal", "legend": null}}
        },
        {
          "data": {"values": [{"s": "Cr@La-TMA", "x": 2311, "y": 94.9}, {"s": "La-TMA", "x": 2311, "y": 88.2}]},
          "mark": {"type": "text", "fontSize": 18, "align": "left", "baseline": "middle"},
          "encoding": {"x": {"field": "x", "type": "quantitative"}, "y": {"field": "y", "type": "quantitative"}, "text": {"field": "s"}, "color": {"field": "s", "type": "nominal", "legend": null}}
        }
      ]
    }
  ]
}
